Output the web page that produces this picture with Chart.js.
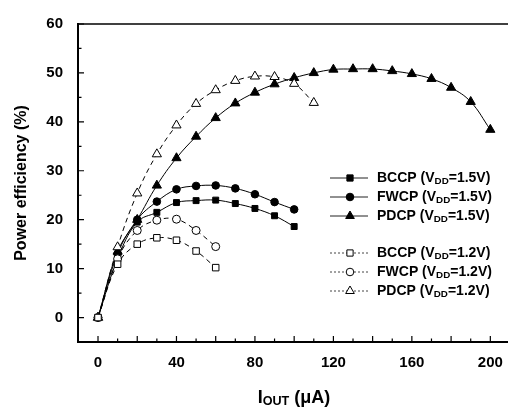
<!DOCTYPE html>
<html lang="en">
<head>
<meta charset="UTF-8" />
<title>Power efficiency vs IOUT</title>
<script src="https://cdn.jsdelivr.net/npm/chart.js"></script>
<style>
  body { margin: 0; background: #fff; }
  .chart-box { width: 508px; height: 414px; }
</style>
</head>
<body>
<div class="chart-box"><canvas id="effChart"></canvas></div>
<script>
  // x positions (uA) for each group of series
  const xPd15 = [0, 10, 20, 30, 40, 50, 60, 70, 80, 90, 100, 110, 120, 130, 140, 150, 160, 170, 180, 190, 200];
  const x15 = [0, 10, 20, 30, 40, 50, 60, 70, 80, 90, 100];
  const x12 = [0, 10, 20, 30, 40, 50, 60];
  const xPd12 = [0, 10, 20, 30, 40, 50, 60, 70, 80, 90, 100, 110];

  // power efficiency (%)
  const bccp15 = [0, 12, 19.5, 21.5, 23.5, 23.9, 24.0, 23.3, 22.3, 20.8, 18.6];
  const fwcp15 = [0, 13, 20, 23.7, 26.2, 26.9, 27.0, 26.4, 25.2, 23.6, 22.1];
  const pdcp15 = [0, 13.5, 20, 27, 32.6, 37, 40.8, 43.8, 46, 47.7, 49, 50, 50.7, 50.8, 50.8, 50.4, 49.8, 48.8, 47, 44.1, 38.4];
  const bccp12 = [0, 10.9, 15.0, 16.3, 15.8, 13.6, 10.2];
  const fwcp12 = [0, 12, 17.8, 19.9, 20.1, 17.8, 14.5];
  const pdcp12 = [0, 14.4, 25.4, 33.4, 39.3, 43.7, 46.5, 48.4, 49.3, 49.2, 47.8, 43.9];

  const xTickLabels = [0, 40, 80, 120, 160, 200];
  const yTickLabels = [0, 10, 20, 30, 40, 50, 60];
  const xMajorTicks = [0, 20, 40, 60, 80, 100, 120, 140, 160, 180, 200];
  const xMinorTicks = [10, 30, 50, 70, 90, 110, 130, 150, 170, 190];
  const yMajorTicks = [0, 10, 20, 30, 40, 50, 60];
  const yMinorTicks = [5, 15, 25, 35, 45, 55];

  const FONT = '"Liberation Sans", Arial, sans-serif';

  const toPts = (xs, ys) => xs.map((x, i) => ({ x: x, y: ys[i] }));

  function series(label, xs, ys, style, open) {
    return {
      label: label,
      data: toPts(xs, ys),
      borderColor: '#000',
      borderWidth: 1,
      borderDash: open ? [5, 4] : [],
      backgroundColor: open ? '#fff' : '#000',
      pointStyle: style,
      pointRadius: style === 'triangle' ? 5.3 : (style === 'rect' ? (open ? 4.6 : 4.2) : (open ? 4 : 3.8)),
      pointBorderColor: '#000',
      pointBackgroundColor: open ? '#fff' : '#000',
      pointBorderWidth: 1,
      tension: 0.4,
      fill: false
    };
  }

  const legendItems = [
    { name: 'BCCP', v: '1.5V', style: 'rect', open: false, y: 178 },
    { name: 'FWCP', v: '1.5V', style: 'circle', open: false, y: 197 },
    { name: 'PDCP', v: '1.5V', style: 'triangle', open: false, y: 216 },
    { name: 'BCCP', v: '1.2V', style: 'rect', open: true, y: 253 },
    { name: 'FWCP', v: '1.2V', style: 'circle', open: true, y: 272 },
    { name: 'PDCP', v: '1.2V', style: 'triangle', open: true, y: 291 }
  ];

  // text with subscript parts: [[text, isSub], ...]
  function drawRich(ctx, x, y, parts, size) {
    ctx.textBaseline = 'middle';
    ctx.textAlign = 'left';
    parts.forEach(([t, sub]) => {
      ctx.font = 'bold ' + (sub ? size * 0.7 : size) + 'px ' + FONT;
      ctx.fillText(t, x, sub ? y + size * 0.22 : y);
      x += ctx.measureText(t).width;
    });
  }
  function richWidth(ctx, parts, size) {
    let w = 0;
    parts.forEach(([t, sub]) => {
      ctx.font = 'bold ' + (sub ? size * 0.7 : size) + 'px ' + FONT;
      w += ctx.measureText(t).width;
    });
    return w;
  }

  const decorPlugin = {
    id: 'decor',
    afterDraw(chart) {
      const ctx = chart.ctx;
      const area = chart.chartArea;
      const xs = chart.scales.x, ys = chart.scales.y;
      ctx.save();
      ctx.strokeStyle = '#000';
      ctx.fillStyle = '#000';

      // top frame line
      ctx.lineWidth = 1.5;
      ctx.beginPath();
      ctx.moveTo(area.left, area.top);
      ctx.lineTo(chart.width, area.top);
      ctx.stroke();

      // inward tick marks
      ctx.lineWidth = 1.2;
      ctx.beginPath();
      xMajorTicks.forEach(v => { const p = xs.getPixelForValue(v); ctx.moveTo(p, area.bottom); ctx.lineTo(p, area.bottom - 6); });
      xMinorTicks.forEach(v => { const p = xs.getPixelForValue(v); ctx.moveTo(p, area.bottom); ctx.lineTo(p, area.bottom - 3.5); });
      yMajorTicks.forEach(v => { const p = ys.getPixelForValue(v); ctx.moveTo(area.left, p); ctx.lineTo(area.left + 6, p); });
      yMinorTicks.forEach(v => { const p = ys.getPixelForValue(v); ctx.moveTo(area.left, p); ctx.lineTo(area.left + 3.5, p); });
      ctx.stroke();

      // x axis line runs on to the picture edge
      ctx.lineWidth = 2;
      ctx.beginPath();
      ctx.moveTo(area.right, area.bottom);
      ctx.lineTo(chart.width, area.bottom);
      ctx.stroke();

      // x axis title with subscript
      const xTitle = [['I', false], ['OUT', true], [' (\u03BCA)', false]];
      const w = richWidth(ctx, xTitle, 18);
      drawRich(ctx, 294 - w / 2, 398, xTitle, 18);

      // legend
      legendItems.forEach(it => {
        ctx.save();
        ctx.lineWidth = 1;
        ctx.strokeStyle = it.open ? '#444' : '#222';
        ctx.setLineDash(it.open ? [2, 2] : []);
        ctx.beginPath();
        ctx.moveTo(330, it.y);
        ctx.lineTo(368, it.y);
        ctx.stroke();
        ctx.setLineDash([]);
        ctx.strokeStyle = '#000';
        ctx.fillStyle = it.open ? '#fff' : '#000';
        const r = it.style === 'triangle' ? 5 : (it.style === 'rect' ? 4.4 : 3.8);
        Chart.helpers.drawPoint(ctx, { pointStyle: it.style, radius: r, borderWidth: 1, rotation: 0 }, 350, it.y);
        ctx.restore();
        ctx.fillStyle = '#000';
        drawRich(ctx, 377, it.y, [[it.name + ' (V', false], ['DD', true], ['=' + it.v + ')', false]], 14);
      });
      ctx.restore();
    }
  };

  new Chart(document.getElementById('effChart'), {
    type: 'line',
    data: {
      // first dataset is drawn on top, so the open markers come first
      datasets: [
        series('BCCP (VDD=1.2V)', x12, bccp12, 'rect', true),
        series('FWCP (VDD=1.2V)', x12, fwcp12, 'circle', true),
        series('PDCP (VDD=1.2V)', xPd12, pdcp12, 'triangle', true),
        series('BCCP (VDD=1.5V)', x15, bccp15, 'rect', false),
        series('FWCP (VDD=1.5V)', x15, fwcp15, 'circle', false),
        series('PDCP (VDD=1.5V)', xPd15, pdcp15, 'triangle', false)
      ]
    },
    options: {
      responsive: true,
      maintainAspectRatio: false,
      animation: false,
      layout: { padding: { top: 17, right: 0, left: 0, bottom: 0 } },
      plugins: {
        legend: { display: false },
        tooltip: { enabled: false }
      },
      scales: {
        x: {
          type: 'linear',
          min: -10.2,
          max: 205.8,
          grid: { display: false, drawTicks: false },
          border: { display: true, color: '#000', width: 2 },
          afterBuildTicks: s => { s.ticks = xTickLabels.map(v => ({ value: v })); },
          afterFit: s => { s.height = 72; s.paddingLeft = 0; s.paddingRight = 0; },
          ticks: {
            color: '#000',
            padding: 12,
            maxRotation: 0,
            font: { family: FONT, size: 15, weight: 'bold' }
          }
        },
        y: {
          type: 'linear',
          min: -5,
          max: 60,
          grid: { display: false, drawTicks: false },
          border: { display: true, color: '#000', width: 2 },
          afterBuildTicks: s => { s.ticks = yTickLabels.map(v => ({ value: v })); },
          afterFit: s => { s.width = 78; },
          ticks: {
            color: '#000',
            padding: 15,
            font: { family: FONT, size: 15, weight: 'bold' }
          },
          title: {
            display: true,
            text: 'Power efficiency (%)',
            color: '#000',
            padding: { top: 12, bottom: 0 },
            font: { family: FONT, size: 16, weight: 'bold' }
          }
        }
      }
    },
    plugins: [decorPlugin]
  });
</script>
</body>
</html>
